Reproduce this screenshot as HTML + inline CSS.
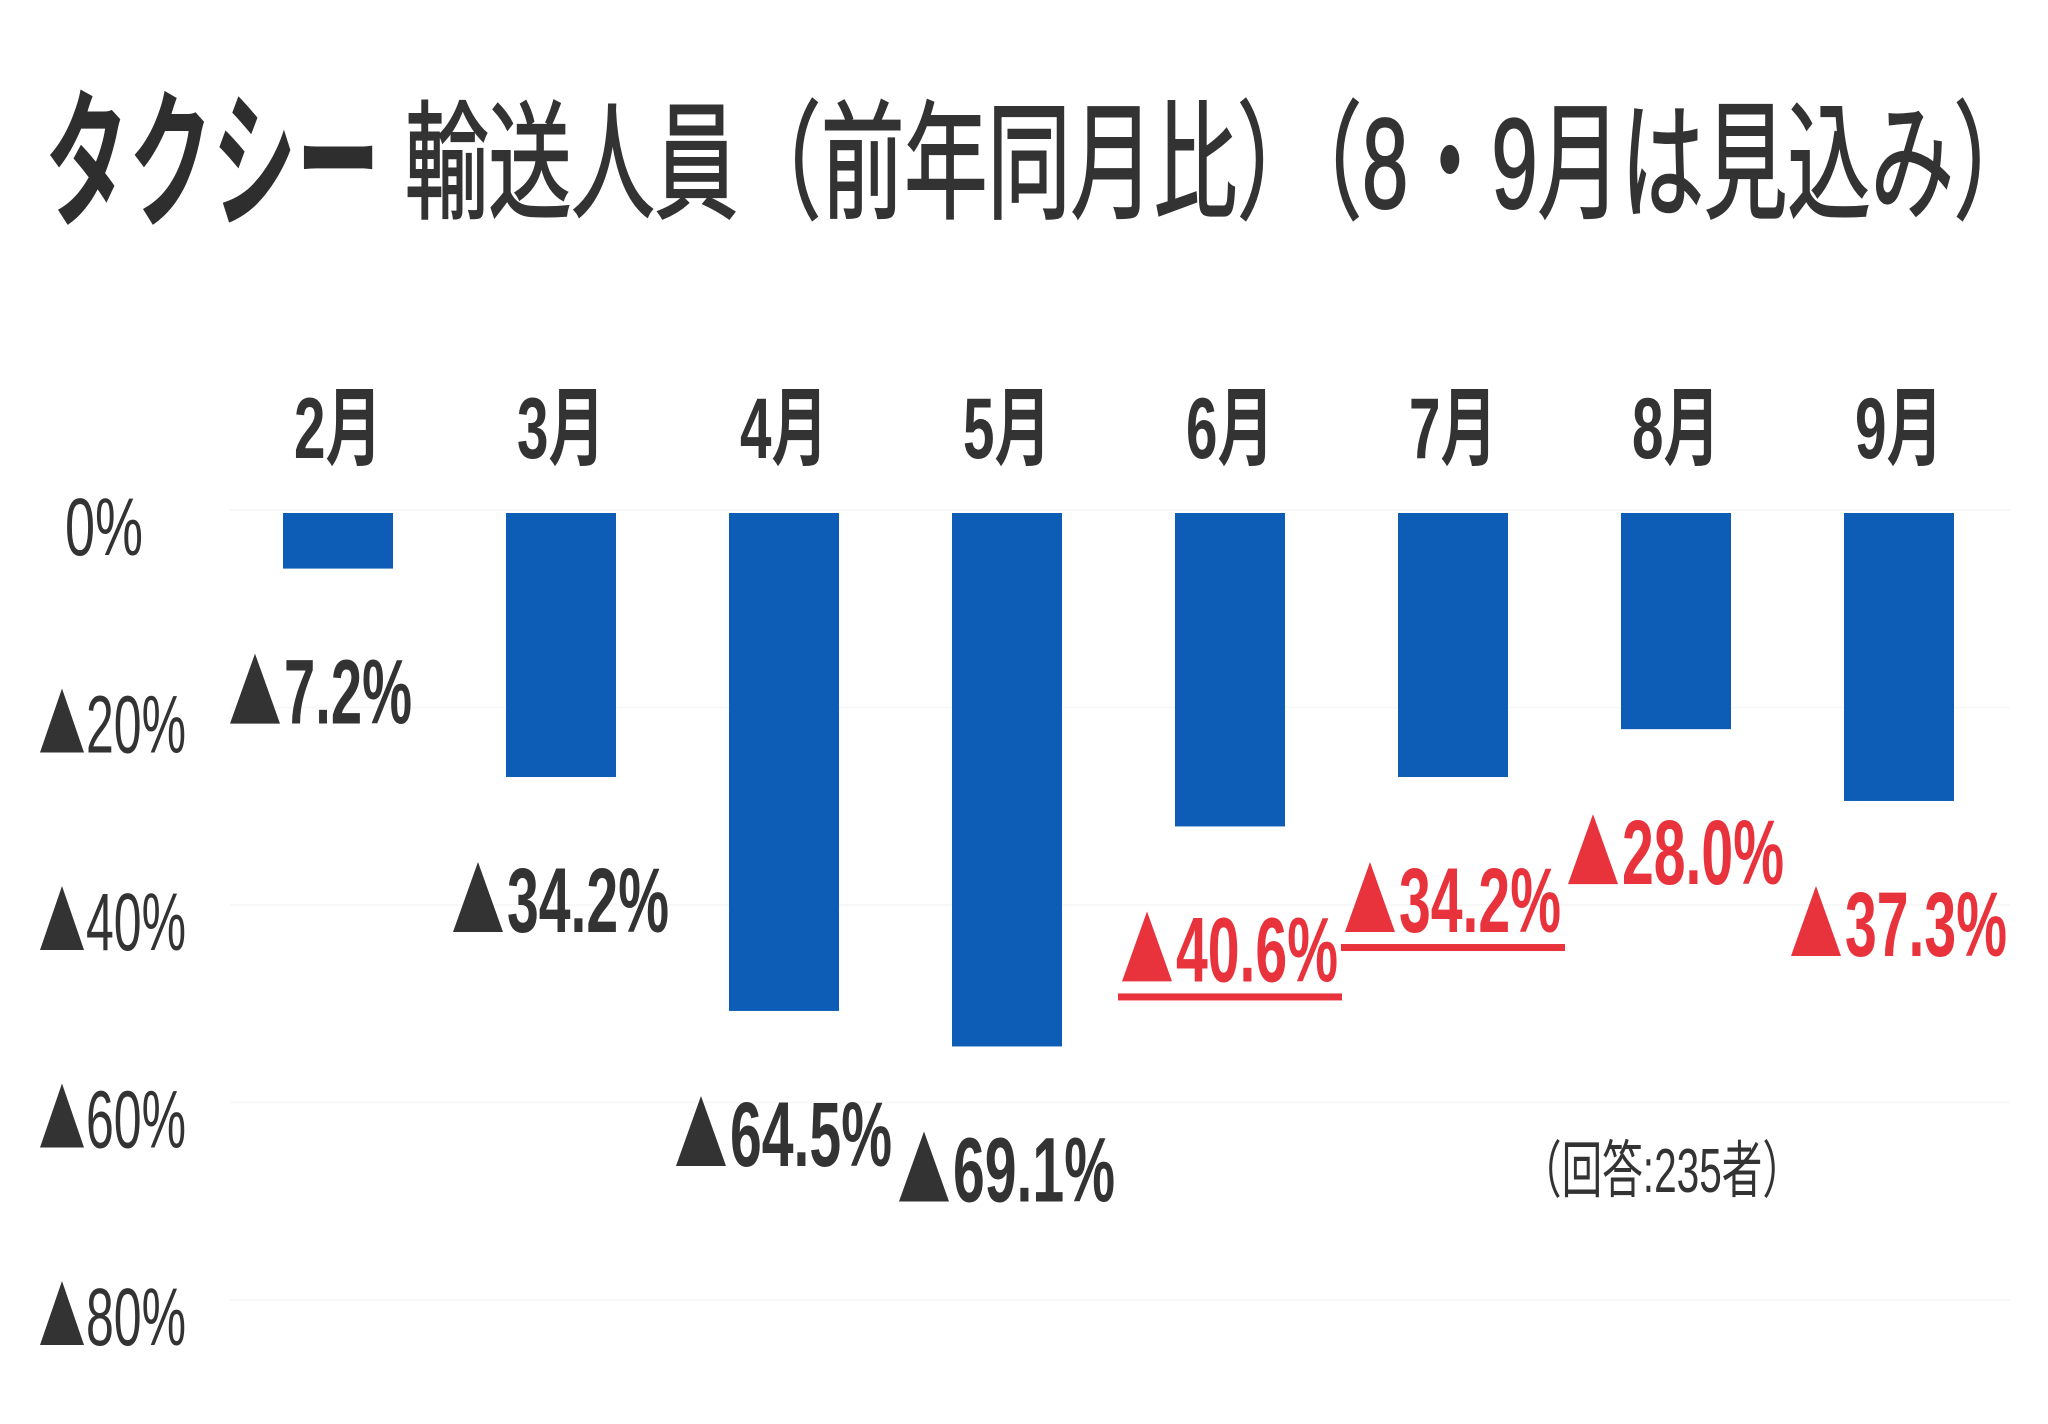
<!DOCTYPE html>
<html><head><meta charset="utf-8"><style>
html,body{margin:0;padding:0;background:#fff;}
svg{display:block;font-family:"Liberation Sans","Noto Sans CJK JP",sans-serif;}
</style></head><body>
<svg id="chart" width="2048" height="1424" viewBox="0 0 2048 1424" xmlns="http://www.w3.org/2000/svg">
<text x="45" y="215" font-size="150" font-weight="bold" fill="#2e2e2e" textLength="335" lengthAdjust="spacingAndGlyphs">タクシー</text>
<text x="405" y="208" font-size="128" fill="#333" stroke="#333" stroke-width="2" textLength="1632" lengthAdjust="spacingAndGlyphs">輸送人員（前年同月比）（8・9月は見込み）</text>
<g id="grid"></g>
<g id="yaxis"></g>
<g id="bars"></g>
<g id="labels"></g>
<text x="1521" y="1192" font-size="62" fill="#333" textLength="282" lengthAdjust="spacingAndGlyphs">（回答:235者）</text>
</svg>
<script>
const months = ["2月","3月","4月","5月","6月","7月","8月","9月"];
const values = [-7.2,-34.2,-64.5,-69.1,-40.6,-34.2,-28.0,-37.3];
const valueLabels = ["7.2%","34.2%","64.5%","69.1%","40.6%","34.2%","28.0%","37.3%"];
const yTickLabels = ["0%","20%","40%","60%","80%"];
const estimated = [false,false,false,false,true,true,true,true];

const NS="http://www.w3.org/2000/svg";
const zeroY=513, pxPer=7.72, firstX=283, step=223, barW=110;
function yScale(v){return zeroY - v*pxPer;}
function xScale(i){return firstX + i*step;}
function mk(tag,attrs,parent){const e=document.createElementNS(NS,tag);for(const k in attrs)e.setAttribute(k,attrs[k]);parent.appendChild(e);return e;}
function tri(x,base,w,h,col,parent){
  const p=mk('polygon',{points:`${x},${base} ${x+w},${base} ${x+w/2},${base-h}`,fill:col},parent);
  return p;
}

const grid=document.getElementById('grid'), yaxis=document.getElementById('yaxis'),
      bars=document.getElementById('bars'), labels=document.getElementById('labels');

yTickLabels.forEach((t,i)=>{
  const base=555 + i*197.5;
  const g=mk('line',{x1:230,x2:2010,y1:base-45,y2:base-45,stroke:"#f8f8f8","stroke-width":2},grid);
  
  
  if(i>0){
    const tr=tri(40,base,44,64,"#333",yaxis);
    
    
  }
  const tx=mk('text',{x:i===0?65:86,y:base,"font-size":82,fill:"#333",textLength:i===0?78:100,lengthAdjust:"spacingAndGlyphs"},yaxis);
  tx.textContent=t;
  
  
});

months.forEach((m,i)=>{
  const x=xScale(i), cx=x+barW/2;
  const ml=mk('text',{x:cx,y:458,"font-size":86,"font-weight":"bold",fill:"#333","text-anchor":"middle",textLength:88,lengthAdjust:"spacingAndGlyphs"},labels);
  ml.textContent=m;
  
  
  const y0=yScale(0), y1=yScale(values[i]);
  const r=mk('rect',{x:x,y:Math.min(y0,y1),width:barW,height:Math.abs(y1-y0),fill:"#0d5cb6"},bars);
  
  
  const col = estimated[i] ? "#e8333d" : "#333";
  const ly = y1 + 155;
  const left = cx-108;
  const tr=tri(left,ly,50,70,col,labels);
  
  
  const tw = valueLabels[i].length>4 ? 162 : 128;
  const vt=mk('text',{x:left+54,y:ly,"font-size":92,"font-weight":"bold",fill:col,textLength:tw,lengthAdjust:"spacingAndGlyphs"},labels);
  vt.textContent=valueLabels[i];
  
  
  if(i===4||i===5){
    const u=mk('rect',{x:left-4,y:ly+12,width:224,height:7,fill:col},labels);
    
    
  }
});
</script>
</body></html>
